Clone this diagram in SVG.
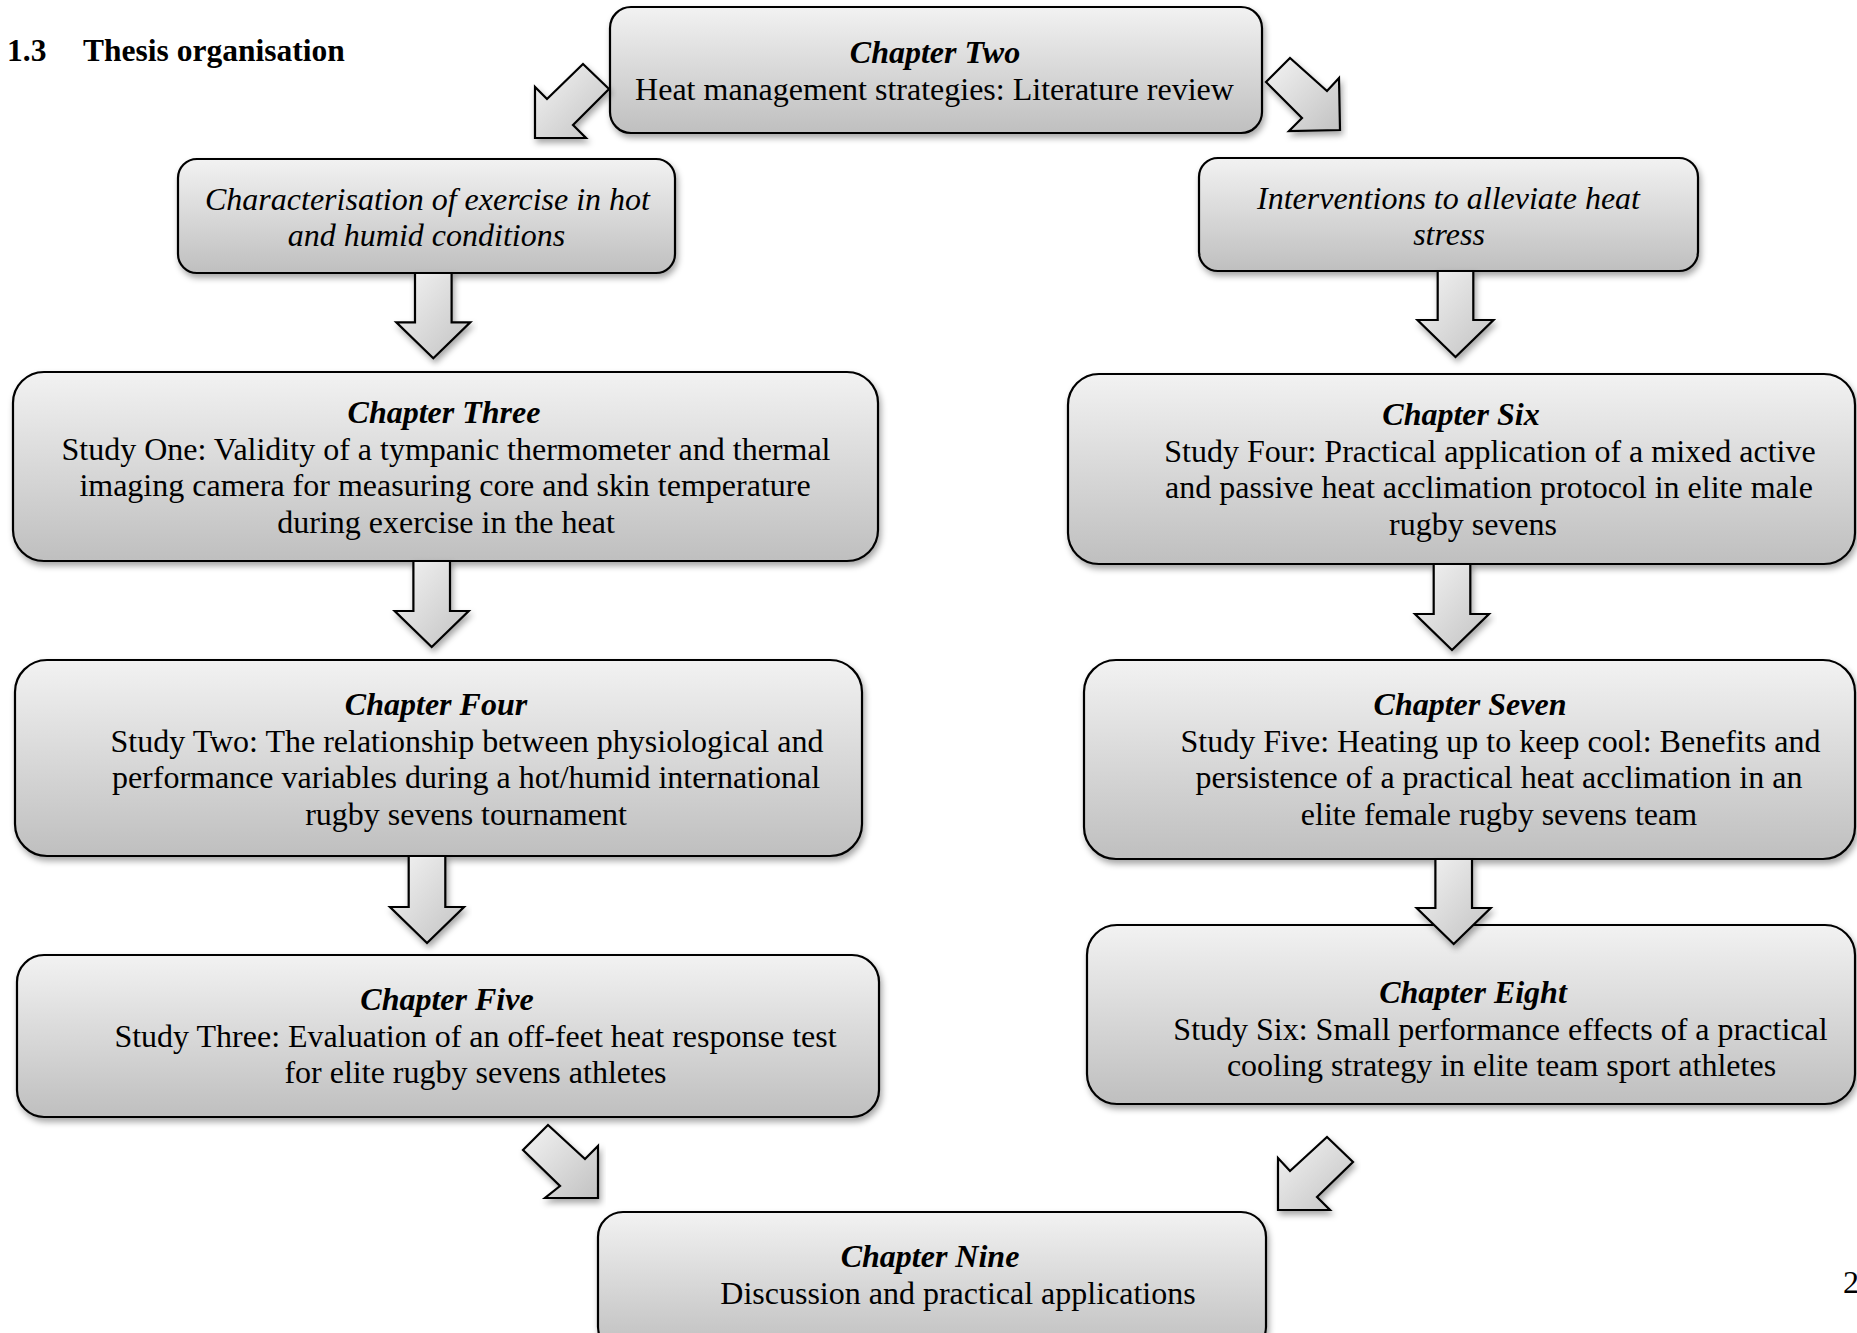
<svg xmlns="http://www.w3.org/2000/svg" width="1857" height="1333" viewBox="0 0 1857 1333">
<defs>
<linearGradient id="gBox" x1="0" y1="0" x2="0" y2="1">
<stop offset="0" stop-color="#f2f2f2"/>
<stop offset="1" stop-color="#bfbfbf"/>
</linearGradient>
<linearGradient id="gArr" x1="0" y1="0" x2="1" y2="1">
<stop offset="0" stop-color="#f4f4f4"/>
<stop offset="1" stop-color="#c2c2c2"/>
</linearGradient>
<filter id="sh" x="-10%" y="-10%" width="120%" height="130%">
<feDropShadow dx="2" dy="4" stdDeviation="3" flood-color="#000" flood-opacity="0.35"/>
</filter>
</defs>
<style>
.box{fill:url(#gBox);stroke:#000;stroke-width:2.2;filter:url(#sh)}
.arr{fill:url(#gArr);stroke:#000;stroke-width:2.2;stroke-linejoin:miter;filter:url(#sh)}
text{font-family:"Liberation Serif","Times New Roman",serif;font-size:32px;fill:#000;text-anchor:middle}
.h{font-weight:bold;font-style:italic}
.i{font-style:italic}
.title{font-weight:bold;font-size:31.5px;text-anchor:start}
</style>
<rect width="1857" height="1333" fill="#fff"/>
<text class="title" x="7" y="61">1.3</text>
<text class="title" x="83" y="61">Thesis organisation</text>
<text x="1843" y="1293" style="text-anchor:start">2</text>

<g id="n-ch2">
<rect class="box" x="610" y="7" width="652" height="126" rx="21"/>
<text class="h" x="935" y="63">Chapter Two</text>
<text x="934.5" y="100">Heat management strategies: Literature review</text>
</g>
<g id="n-char">
<rect class="box" x="178" y="159" width="497" height="114" rx="19"/>
<text class="i" x="427.5" y="210">Characterisation of exercise in hot</text>
<text class="i" x="426.5" y="246">and humid conditions</text>
</g>
<g id="n-interv">
<rect class="box" x="1199" y="158" width="499" height="113" rx="19"/>
<text class="i" x="1448.5" y="209">Interventions to alleviate heat</text>
<text class="i" x="1449" y="245">stress</text>
</g>
<g id="n-ch3">
<rect class="box" x="13" y="372" width="865" height="189" rx="31"/>
<text class="h" x="444" y="423">Chapter Three</text>
<text x="446" y="459.5">Study One: Validity of a tympanic thermometer and thermal</text>
<text x="445" y="496">imaging camera for measuring core and skin temperature</text>
<text x="446" y="532.5">during exercise in the heat</text>
</g>
<g id="n-ch6">
<rect class="box" x="1068" y="374" width="787" height="190" rx="31"/>
<text class="h" x="1461" y="425">Chapter Six</text>
<text x="1490" y="461.5">Study Four: Practical application of a mixed active</text>
<text x="1489" y="498">and passive heat acclimation protocol in elite male</text>
<text x="1473" y="534.5">rugby sevens</text>
</g>
<g id="n-ch4">
<rect class="box" x="15" y="660" width="847" height="196" rx="32"/>
<text class="h" x="436" y="715">Chapter Four</text>
<text x="467" y="751.5">Study Two: The relationship between physiological and</text>
<text x="466" y="788">performance variables during a hot/humid international</text>
<text x="466" y="824.5">rugby sevens tournament</text>
</g>
<g id="n-ch7">
<rect class="box" x="1084" y="660" width="771" height="199" rx="32"/>
<text class="h" x="1470" y="715">Chapter Seven</text>
<text x="1500.5" y="751.5">Study Five: Heating up to keep cool: Benefits and</text>
<text x="1499" y="788">persistence of a practical heat acclimation in an</text>
<text x="1499" y="824.5">elite female rugby sevens team</text>
</g>
<g id="n-ch5">
<rect class="box" x="17" y="955" width="862" height="162" rx="27"/>
<text class="h" x="447" y="1010">Chapter Five</text>
<text x="475.5" y="1046.5">Study Three: Evaluation of an off-feet heat response test</text>
<text x="475.5" y="1083">for elite rugby sevens athletes</text>
</g>
<g id="n-ch8">
<rect class="box" x="1087" y="925" width="768" height="179" rx="30"/>
<text class="h" x="1473" y="1003">Chapter Eight</text>
<text x="1500.5" y="1039.5">Study Six: Small performance effects of a practical</text>
<text x="1501.5" y="1076">cooling strategy in elite team sport athletes</text>
</g>
<g id="n-ch9">
<rect class="box" x="598" y="1212" width="668" height="140" rx="25"/>
<text class="h" x="930" y="1267">Chapter Nine</text>
<text x="958" y="1304">Discussion and practical applications</text>
</g>

<g id="connectors">
<polygon class="arr" points="583,64 609,89 573,125 586,138 535,138 535,87 547,99"/>
<polygon class="arr" points="1290,58 1266,82 1302,118 1289,131 1340,130 1339,78 1327,91"/>
<polygon class="arr" points="415,273 451.6,273 451.6,322.3 470.3,322.3 433.3,358.3 396.3,322.3 415,322.3"/>
<polygon class="arr" points="1437.7,271 1473.3,271 1473.3,320 1493.5,320 1455.5,357 1417.5,320 1437.7,320"/>
<polygon class="arr" points="413.4,561 450,561 450,611 468.7,611 431.7,647 394.7,611 413.4,611"/>
<polygon class="arr" points="1433.7,564 1470.3,564 1470.3,614 1489,614 1452,650 1415,614 1433.7,614"/>
<polygon class="arr" points="408.7,856 445.3,856 445.3,907 464,907 427,943 390,907 408.7,907"/>
<polygon class="arr" points="1435.4,859 1472,859 1472,908 1490.7,908 1453.7,944 1416.7,908 1435.4,908"/>
<polygon class="arr" points="548,1125 523,1150 560,1186 545,1198 598,1198 598,1146 585,1159"/>
<polygon class="arr" points="1327,1137 1353,1162 1317,1197 1330,1210 1278,1210 1278,1158 1290,1171"/>
</g>
</svg>
